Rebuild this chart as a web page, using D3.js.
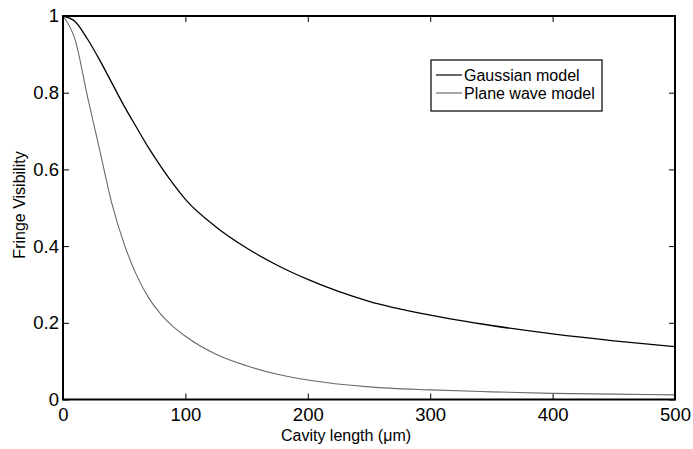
<!DOCTYPE html>
<html>
<head>
<meta charset="utf-8">
<script src="https://cdn.jsdelivr.net/npm/d3@7"></script>
<style>
  body { margin: 0; background: #fff; }
  svg { display: block; font-family: "Liberation Sans", Arial, sans-serif; }
</style>
</head>
<body>
<svg width="693" height="449"></svg>
<script>
// cavity length samples (um)
const cavityLength = [0, 10, 20, 30, 40, 50, 60, 70, 80, 90, 100, 125, 150, 175, 200, 250, 300, 350, 400, 450, 500];
// fringe visibility, gaussian beam model
const gaussianModel = [1, 0.985, 0.94, 0.885, 0.825, 0.765, 0.71, 0.656, 0.607, 0.562, 0.522, 0.45, 0.395, 0.35, 0.313, 0.256, 0.22, 0.193, 0.171, 0.153, 0.138];
// fringe visibility, plane wave model
const planeWaveModel = [1, 0.937, 0.79, 0.65, 0.51, 0.405, 0.325, 0.265, 0.222, 0.19, 0.165, 0.118, 0.088, 0.066, 0.051, 0.033, 0.025, 0.02, 0.016, 0.014, 0.012];

const xTicks = [0, 100, 200, 300, 400, 500];
const yTicks = [0, 0.2, 0.4, 0.6, 0.8, 1];

const svg = d3.select("svg");

// plot box
const plotLeft = 63, plotRight = 675, plotTop = 16, plotBottom = 399.5;

const x = d3.scaleLinear().domain([0, 500]).range([plotLeft, plotRight]);
const y = d3.scaleLinear().domain([0, 1]).range([plotBottom, plotTop]);

// ticks pointing inward, on all four sides
const tickLen = 6;
svg.append("g")
  .attr("transform", `translate(0,${plotBottom})`)
  .call(d3.axisBottom(x).tickValues(xTicks).tickSizeInner(-tickLen).tickSizeOuter(0).tickPadding(8.5).tickFormat(d3.format("d")))
  .call(g => g.select(".domain").remove())
  .call(g => g.selectAll("text").attr("font-size", "18.5px").attr("font-family", "Liberation Sans, Arial, sans-serif"));

svg.append("g")
  .attr("transform", `translate(0,${plotTop})`)
  .call(d3.axisTop(x).tickValues(xTicks).tickSizeInner(-tickLen).tickSizeOuter(0).tickFormat(""))
  .call(g => g.select(".domain").remove());

svg.append("g")
  .attr("transform", `translate(${plotLeft},0)`)
  .call(d3.axisLeft(y).tickValues(yTicks).tickSizeInner(-tickLen).tickSizeOuter(0).tickPadding(4).tickFormat(d3.format("")))
  .call(g => g.select(".domain").remove())
  .call(g => g.selectAll("text").attr("font-size", "18.5px").attr("font-family", "Liberation Sans, Arial, sans-serif"));

svg.append("g")
  .attr("transform", `translate(${plotRight},0)`)
  .call(d3.axisRight(y).tickValues(yTicks).tickSizeInner(-tickLen).tickSizeOuter(0).tickFormat(""))
  .call(g => g.select(".domain").remove());

svg.selectAll(".tick line").attr("stroke", "#000").attr("stroke-width", 1);

// the curves
const line = d3.line()
  .x((d, i) => x(cavityLength[i]))
  .y(d => y(d))
  .curve(d3.curveMonotoneX);

svg.append("path")
  .datum(planeWaveModel)
  .attr("fill", "none")
  .attr("stroke", "#6a6a6a")
  .attr("stroke-width", 1.1)
  .attr("d", line);

svg.append("path")
  .datum(gaussianModel)
  .attr("fill", "none")
  .attr("stroke", "#000")
  .attr("stroke-width", 1.3)
  .attr("d", line);

// box round the plot
svg.append("rect")
  .attr("x", plotLeft).attr("y", plotTop)
  .attr("width", plotRight - plotLeft).attr("height", plotBottom - plotTop)
  .attr("fill", "none")
  .attr("stroke", "#000")
  .attr("stroke-width", 2);

// axis labels
svg.append("text")
  .attr("x", 346).attr("y", 441)
  .attr("text-anchor", "middle")
  .attr("font-size", "16px")
  .text("Cavity length (\u03bcm)");

svg.append("text")
  .attr("transform", "translate(25,205) rotate(-90)")
  .attr("text-anchor", "middle")
  .attr("font-size", "16px")
  .text("Fringe Visibility");

// legend
const legend = svg.append("g");
legend.append("rect")
  .attr("x", 431).attr("y", 60)
  .attr("width", 171).attr("height", 51)
  .attr("fill", "#fff")
  .attr("stroke", "#000")
  .attr("stroke-width", 1.2);

const legendItems = [
  { name: "Gaussian model", color: "#000", y: 75 },
  { name: "Plane wave model", color: "#6a6a6a", y: 93 }
];
legendItems.forEach(item => {
  legend.append("line")
    .attr("x1", 436).attr("x2", 462)
    .attr("y1", item.y).attr("y2", item.y)
    .attr("stroke", item.color)
    .attr("stroke-width", 1.2);
  legend.append("text")
    .attr("x", 464).attr("y", item.y)
    .attr("dy", "0.35em")
    .attr("font-size", "16px")
    .text(item.name);
});
</script>
</body>
</html>
